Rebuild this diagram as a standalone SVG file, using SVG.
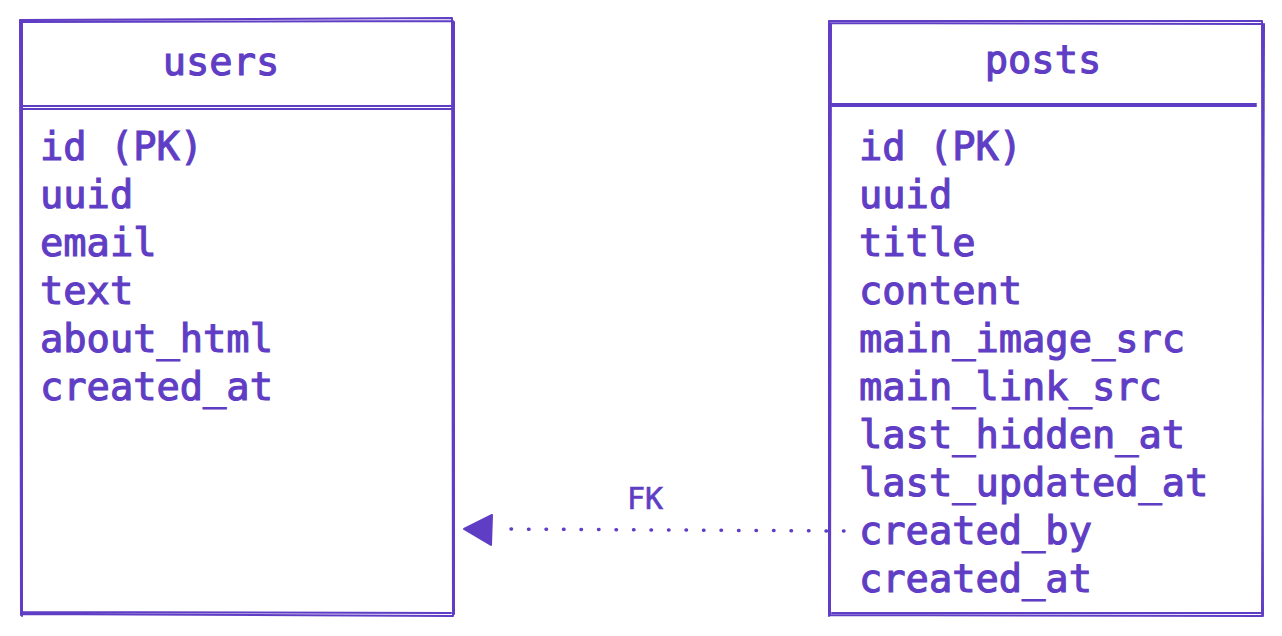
<svg xmlns="http://www.w3.org/2000/svg" width="1282" height="636" viewBox="0 0 1282 636">
<style>
.s{fill:none;stroke:#5f3dc4;stroke-width:2;stroke-linecap:round;stroke-linejoin:round}
.d{fill:none;stroke:#5f3dc4;stroke-width:3.5;stroke-linecap:round;stroke-dasharray:0.5 17}
.h{font-family:"DejaVu Sans Mono","Liberation Mono",monospace;font-size:38.7px;fill:#5f3dc4;stroke:#5f3dc4;stroke-width:1.1}
.c{text-anchor:middle}
.l{font-family:"DejaVu Sans Mono","Liberation Mono",monospace;font-size:30px;fill:#5f3dc4;stroke:#5f3dc4;stroke-width:0.6}
</style>
<rect width="1282" height="636" fill="#ffffff"/>
<g id="users">
<path class="s" d="M20 20 L452 18 M21 22 L453 21 M20 20 L21 615 M22 22 L22 616 M452 18 L453 616 M454 22 L454 614 M21 614 L453 616 M23 612 L451 613"/>
<path class="s" d="M21 106 L452 106 M22 109 L453 109"/>
<text class="h c" x="221" y="75">users</text>
<text class="h" x="40" y="160">id (PK)</text>
<text class="h" x="40" y="208">uuid</text>
<text class="h" x="40" y="256">email</text>
<text class="h" x="40" y="304">text</text>
<text class="h" x="40" y="352">about_html</text>
<text class="h" x="40" y="400">created_at</text>
</g>
<g id="posts">
<path class="s" d="M829 21 L1262 21 M830 23 L1263 24 M829 21 L829 616 M831 24 L830 614 M1262 21 L1263 615 M1264 24 L1262 614 M830 615 L1263 616 M832 613 L1262 613"/>
<path class="s" d="M831 104 L1256 104 M832 106 L1256 106"/>
<text class="h c" x="1043" y="73">posts</text>
<text class="h" x="859" y="160">id (PK)</text>
<text class="h" x="859" y="208">uuid</text>
<text class="h" x="859" y="256">title</text>
<text class="h" x="859" y="304">content</text>
<text class="h" x="859" y="352">main_image_src</text>
<text class="h" x="859" y="400">main_link_src</text>
<text class="h" x="859" y="448">last_hidden_at</text>
<text class="h" x="859" y="496">last_updated_at</text>
<text class="h" x="859" y="544">created_by</text>
<text class="h" x="859" y="592">created_at</text>
</g>
<g id="connectors">
<path class="d" d="M844 531 L500 529"/>
<path d="M464 529 L492 515 L491 545 Z" fill="#5f3dc4" stroke="#5f3dc4" stroke-width="2" stroke-linejoin="round"/>
<text class="l c" x="645" y="509">FK</text>
</g>
</svg>
